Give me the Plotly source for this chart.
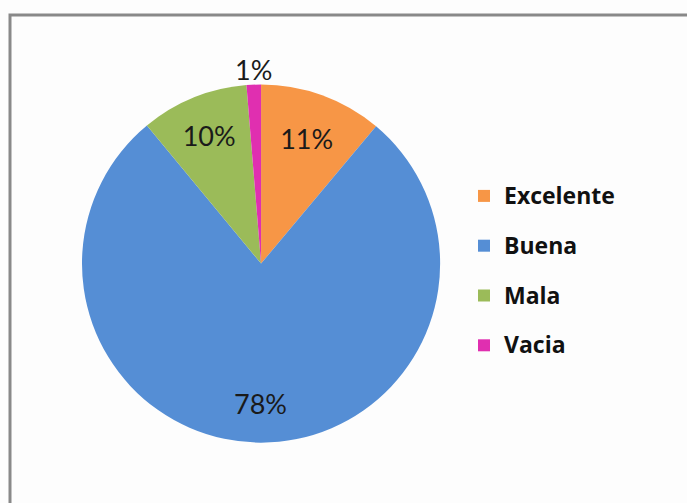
import math
import plotly.graph_objects as go

categories = ["Excelente", "Buena", "Mala", "Vacia"]
values = [11.1, 77.9, 9.7, 1.3]
colors = ["#F79646", "#558ED5", "#9BBB59", "#E02FB0"]
# where each percentage label sits: plotly's own inside text, or an
# annotation at a fraction of the radius along the slice's mid-angle
label_mode = ["inside", "annot", "inside", "annot"]
label_radius = [None, 0.78, None, 1.087]

W, H = 687, 503
DOM_X = [0.08, 0.68]
DOM_Y = [0.12, 0.832]

legend_labels = [
    '<b><span style="font-size:23px;baseline-shift:6px">%s</span></b>' % c
    for c in categories
]

total = sum(values)
templates = ["%{percent:.0%}" if m == "inside" else "" for m in label_mode]

fig = go.Figure(
    go.Pie(
        labels=legend_labels,
        values=values,
        sort=False,
        direction="clockwise",
        rotation=0,
        marker=dict(colors=colors, line=dict(width=0)),
        texttemplate=templates,
        textposition="inside",
        insidetextorientation="horizontal",
        textfont=dict(family="Lato", size=27, color="#1a1a1a"),
        domain=dict(x=DOM_X, y=DOM_Y),
        hoverinfo="label+percent",
    )
)

# annotations for labels placed outside plotly's automatic positions
cx_px = (DOM_X[0] + DOM_X[1]) / 2 * W
cy_px = (1 - (DOM_Y[0] + DOM_Y[1]) / 2) * H
R_px = min((DOM_X[1] - DOM_X[0]) * W, (DOM_Y[1] - DOM_Y[0]) * H) / 2
annotations = []
cum = 0.0
for v, m, rf in zip(values, label_mode, label_radius):
    mid = (cum + v / 2) / total * 2 * math.pi
    cum += v
    if m != "annot":
        continue
    px = cx_px + rf * R_px * math.sin(mid)
    py = cy_px - rf * R_px * math.cos(mid)
    annotations.append(
        dict(
            x=px / W,
            y=1 - py / H,
            xref="paper",
            yref="paper",
            text="%d%%" % round(v / total * 100),
            showarrow=False,
            font=dict(family="Lato", size=27, color="#1a1a1a"),
            xanchor="center",
            yanchor="middle",
        )
    )

fig.update_layout(
    width=W,
    height=H,
    margin=dict(l=0, r=0, t=0, b=0),
    paper_bgcolor="#FDFDFD",
    plot_bgcolor="#FDFDFD",
    font=dict(family="Lato", color="#111111"),
    showlegend=True,
    legend=dict(
        x=464 / W,
        xanchor="left",
        y=1 - 166 / H,
        yanchor="top",
        font=dict(family="Open Sans", size=36, color="#111111"),
        bgcolor="rgba(0,0,0,0)",
    ),
    annotations=annotations,
    shapes=[
        dict(
            type="rect",
            xref="paper",
            yref="paper",
            x0=10 / W,
            x1=1.02,
            y0=-0.02,
            y1=1 - 15 / H,
            line=dict(color="#898989", width=3),
            fillcolor="rgba(0,0,0,0)",
        )
    ],
)

fig.write_html(
    "out.html",
    config={"displayModeBar": False},
    post_script="document.body.style.margin='0';",
)
